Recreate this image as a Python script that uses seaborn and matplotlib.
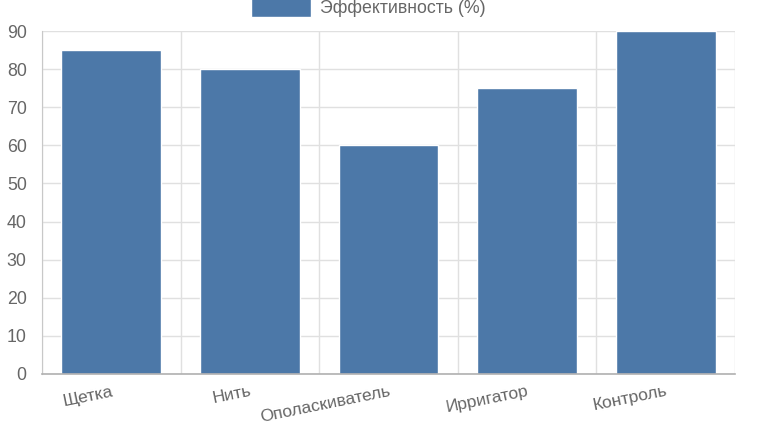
import numpy as np
import matplotlib
matplotlib.use("Agg")
import matplotlib.pyplot as plt
import seaborn as sb
import pandas as pd

# DATA
#-----------------------
methods = ["Щетка", "Нить", "Ополаскиватель", "Ирригатор", "Контроль"]
efficiency = [85, 80, 60, 75, 90]
series_name = "Эффективность (%)"
y_ticks = [0, 10, 20, 30, 40, 50, 60, 70, 80, 90]

bar_color = "#4c78a8"
text_color = "#666666"

# PLOT
#-----------------------
sb.set_style("white")
plt.rcParams["font.family"] = ["Liberation Sans", "DejaVu Sans"]

df = pd.DataFrame({"method": methods, "value": efficiency})

fig = plt.figure(figsize=(7.58, 4.30), dpi=100)
ax = fig.add_axes([42 / 758, 1 - 374 / 430, (735 - 42) / 758, (374 - 31) / 430])

sb.barplot(data=df, x="method", y="value", color=bar_color, saturation=1,
           width=0.72, ax=ax, label=series_name)
if ax.get_legend() is not None:
    ax.get_legend().remove()

ax.set_ylim(0, 90)
ax.set_xlim(-0.5, len(methods) - 0.5)
ax.set_yticks(y_ticks)
ax.set_xlabel("")
ax.set_ylabel("")

# grid lines between categories, like the reference
ax.set_xticks(np.arange(-0.5, len(methods), 1.0), minor=True)
ax.grid(axis="y", color="#e0e0e0", linewidth=1)
ax.grid(axis="x", which="minor", color="#e0e0e0", linewidth=1)
ax.set_axisbelow(True)

ax.tick_params(axis="x", which="major", length=0, pad=7, labelsize=12.5, labelcolor=text_color)
ax.tick_params(axis="x", which="minor", length=14, color="#e0e0e0", width=1)
ax.tick_params(axis="y", length=9, color="#e0e0e0", labelsize=12.8, labelcolor=text_color, pad=2)
plt.setp(ax.get_xticklabels(), rotation=11.5, ha="right", va="top", rotation_mode="anchor")

for side in ["top", "right"]:
    ax.spines[side].set_visible(False)
ax.spines["left"].set_color("#c8c8c8")
ax.spines["bottom"].set_color("#b0b0b0")
ax.spines["bottom"].set_linewidth(1.2)

handles, labels = ax.get_legend_handles_labels()
leg = fig.legend(handles[:1], labels[:1], loc="center", bbox_to_anchor=(368 / 758, 1 - 7 / 430),
                 frameon=False, fontsize=12.8, handlelength=3.4, handleheight=1.3,
                 handletextpad=0.5, labelcolor=text_color)

fig.savefig("out.png", dpi=100)
